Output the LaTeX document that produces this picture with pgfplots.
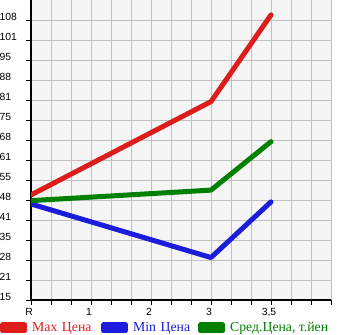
\documentclass[border=0pt]{standalone}
\usepackage{fontspec}
\setmainfont{Liberation Serif}
\newfontfamily\tickfont{Liberation Sans}
\usepackage{pgfplots}
\pgfplotsset{compat=1.18}
\definecolor{cred}{RGB}{221,28,28}
\definecolor{cblue}{RGB}{28,28,221}
\definecolor{cgreen}{RGB}{0,128,0}
\definecolor{bgc}{RGB}{245,245,245}
\definecolor{gridc}{RGB}{192,192,192}
\begin{document}
\begin{tikzpicture}
\begin{axis}[
  at={(0,0)}, anchor=south west,
  scale only axis, width=300bp, height=300bp,
  xmin=0, xmax=5, ymin=15, ymax=114.642857,
  axis lines=left,
  axis line style={-, line width=2bp, black},
  axis background/.style={fill=bgc},
  xtick={0,1,2,3,4,5},
  xticklabels={R,1,2,3,{3,5},{}},
  minor x tick num=2,
  ytick={15,21.642857,28.285714,34.928571,41.571429,48.214286,54.857143,61.5,68.142857,74.785714,81.428571,88.071429,94.714286,101.357143,108},
  yticklabels={15,21,28,35,41,48,55,61,68,75,81,88,95,101,108},
  grid=both,
  major grid style={draw=gridc, line width=1bp},
  minor grid style={draw=gridc, line width=1bp},
  tick align=outside,
  major tick length=4.5bp, minor tick length=4.5bp,
  every tick/.style={black, line width=1bp},
  tick label style={font=\tickfont\fontsize{10.4}{12}\selectfont, inner sep=0pt},
  xticklabel style={anchor=north, yshift=-3.5bp, xshift=-2bp},
  yticklabel style={anchor=west, xshift=-27bp, yshift=3.5bp},
  legend columns=3,
  legend style={draw=none, fill=none, inner sep=0pt, column sep=5bp,
    at={(-0.10333,-0.09333)}, anchor=west,
    nodes={inner sep=0pt, anchor=west},
    font=\fontsize{13.8}{15}\selectfont},
  legend image code/.code={
    \path (0bp,-3bp) rectangle (22bp,3bp);
    \draw[#1, line width=5bp, line cap=round] (2.5bp,0bp) -- (19.5bp,0bp);
  },
]
\addplot[cred, line width=5bp, line cap=round, line join=round] coordinates {(0,49.9) (3,80.9) (4,109.7)};
\addlegendentry[text=cred, text width=64bp]{Max Цена}
\addplot[cblue, line width=5bp, line cap=round, line join=round] coordinates {(0,46.9) (3,29.1) (4,47.6)};
\addlegendentry[text=cblue, text width=60bp]{Min Цена}
\addplot[cgreen, line width=5bp, line cap=round, line join=round] coordinates {(0,48.0) (3,51.5) (4,67.6)};
\addlegendentry[text=cgreen]{Сред.Цена, т.йен}
\end{axis}
\pgfresetboundingbox
\path[use as bounding box] (-31bp,-35bp) rectangle (314bp,300bp);
\end{tikzpicture}
\end{document}
